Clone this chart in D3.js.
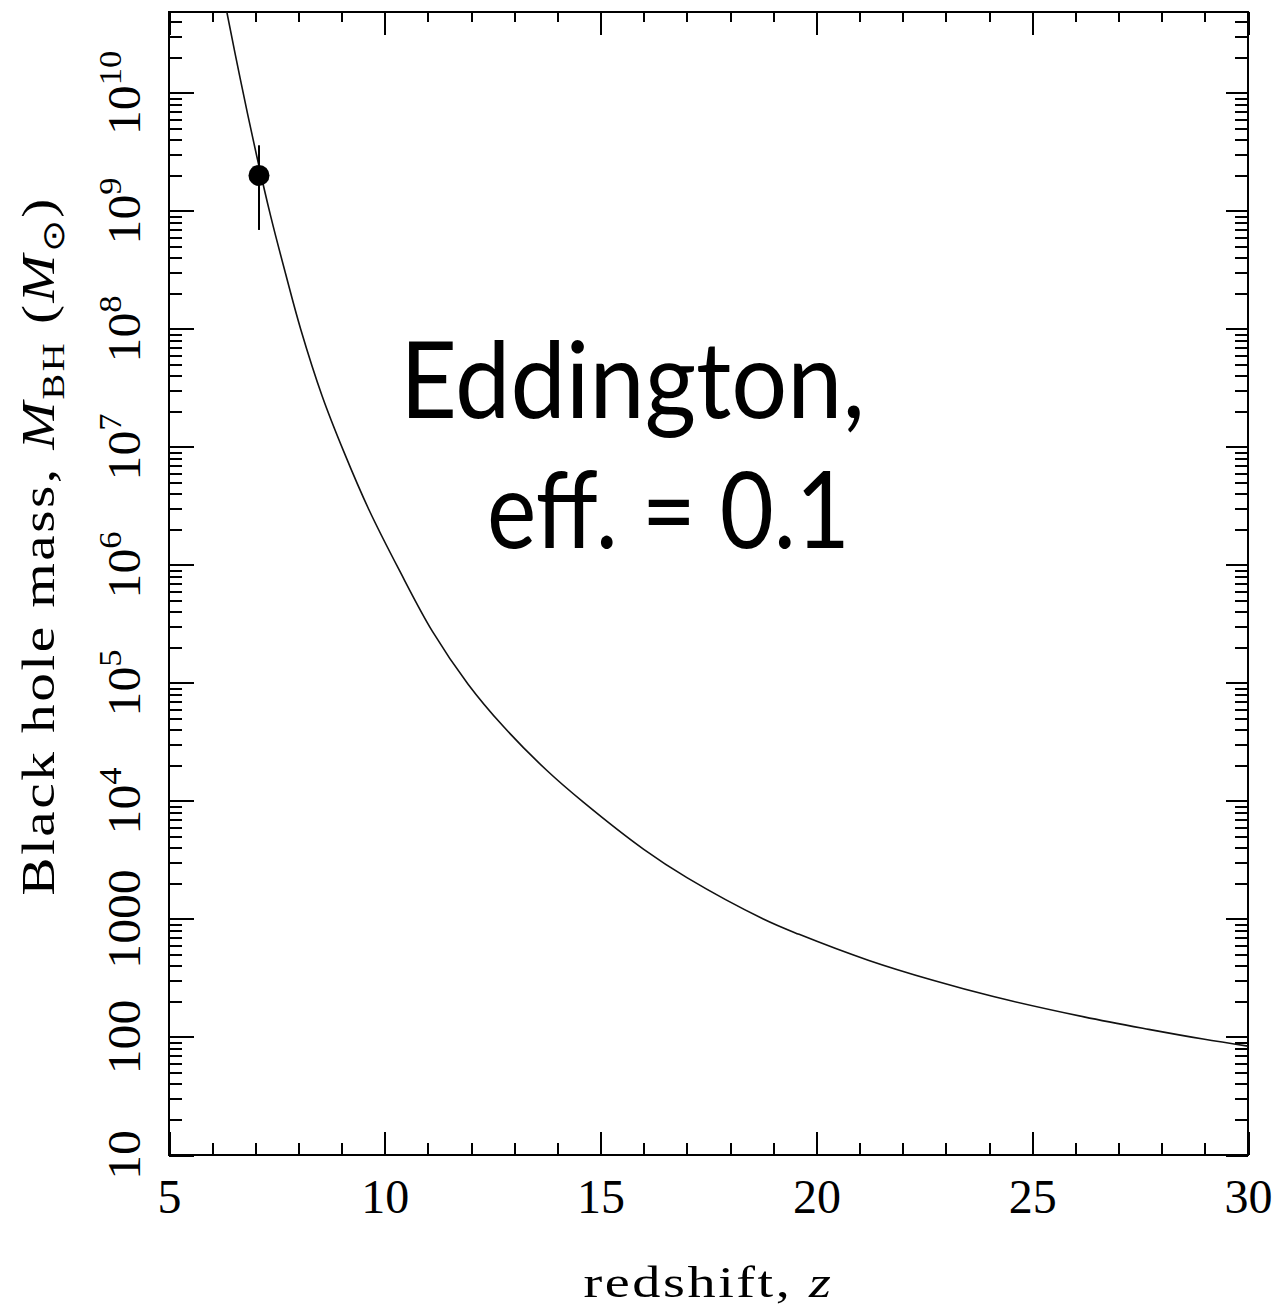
<!DOCTYPE html>
<html>
<head>
<meta charset="utf-8">
<script src="https://cdn.jsdelivr.net/npm/d3@7"></script>
<style>
  body { margin: 0; background: #fff; }
  svg { display: block; }
</style>
</head>
<body>
<svg id="chart" width="1280" height="1309"></svg>
<script>
// Eddington-limited growth track (radiative efficiency 0.1): black hole mass vs redshift
const redshift = [6.34, 6.65, 7.03, 7.36, 7.7, 8.05, 8.55, 9.05, 9.63, 10.33, 11.1, 11.93,
                  12.75, 13.75, 14.6, 16.0, 17.0, 18.77, 19.6, 21.2, 22.7, 24.1, 26.2, 27.7, 28.96, 30];
const bhMass = [4.85e10, 1.32e10, 2.95e9, 8.9e8, 2.95e8, 1.0e8, 2.69e7, 9.12e6, 2.95e6, 9.12e5, 2.75e5, 9.77e4,
                4.27e4, 1.82e4, 9770, 3890, 2240, 1000, 741, 447, 302, 220, 148, 116, 96, 83.6];

// observed quasar with its mass uncertainty
const quasarZ = [7.085];
const quasarMass = [2.0e9];
const quasarMassLow = [6.9e8];
const quasarMassHigh = [3.6e9];

// axis ticks
const xMajorTicks = [5, 10, 15, 20, 25, 30];
const xMinorTicks = [6, 7, 8, 9, 11, 12, 13, 14, 16, 17, 18, 19, 21, 22, 23, 24, 26, 27, 28, 29];
const yMajorExponents = [1, 2, 3, 4, 5, 6, 7, 8, 9, 10];
const yPlainLabels = { 1: "10", 2: "100", 3: "1000" };

const annotationLines = ["Eddington,", "eff. = 0.1"];

const svg = d3.select("#chart");
const plotLeft = 169, plotRight = 1248, plotTop = 12, plotBottom = 1155;

const x = d3.scaleLinear().domain([5, 30]).range([plotLeft, plotRight]);
const y = d3.scaleLog().domain([10, 4.85e10]).range([plotBottom, plotTop]);

const yMajorTicks = yMajorExponents.map(e => Math.pow(10, e));
const yMinorTicks = [];
yMajorExponents.forEach(e => {
  for (let m = 2; m <= 9; m++) {
    const v = m * Math.pow(10, e);
    if (v <= y.domain()[1]) yMinorTicks.push(v);
  }
});

const serif = "'Liberation Serif', 'Times New Roman', serif";

function styleTicks(g) {
  g.select(".domain").remove();
  g.selectAll(".tick line")
    .attr("stroke", "#000")
    .attr("stroke-width", 2)
    .attr("shape-rendering", "crispEdges");
}

// widen a text along its own baseline so it spans `target` pixels
function stretchTo(text, base, target) {
  const len = text.node().getComputedTextLength();
  text.attr("transform", `${base} scale(${target / len},1)`);
}

// bottom axis (inward ticks) with numeric labels
svg.append("g")
  .attr("transform", `translate(0,${plotBottom})`)
  .call(d3.axisBottom(x).tickValues(xMajorTicks).tickSize(-23).tickPadding(24).tickFormat(d3.format("d")))
  .call(styleTicks)
  .call(g => g.selectAll(".tick text")
    .attr("font-family", serif).attr("font-size", 48).attr("fill", "#000"));
svg.append("g")
  .attr("transform", `translate(0,${plotBottom})`)
  .call(d3.axisBottom(x).tickValues(xMinorTicks).tickSize(-12).tickFormat(""))
  .call(styleTicks);

// top axis mirrors the bottom one
svg.append("g")
  .attr("transform", `translate(0,${plotTop})`)
  .call(d3.axisTop(x).tickValues(xMajorTicks).tickSize(-23).tickFormat(""))
  .call(styleTicks);
svg.append("g")
  .attr("transform", `translate(0,${plotTop})`)
  .call(d3.axisTop(x).tickValues(xMinorTicks).tickSize(-10).tickFormat(""))
  .call(styleTicks);

// left and right log axes
svg.append("g")
  .attr("transform", `translate(${plotLeft},0)`)
  .call(d3.axisLeft(y).tickValues(yMajorTicks).tickSize(-25).tickFormat(""))
  .call(styleTicks);
svg.append("g")
  .attr("transform", `translate(${plotLeft},0)`)
  .call(d3.axisLeft(y).tickValues(yMinorTicks).tickSize(-13).tickFormat(""))
  .call(styleTicks);
svg.append("g")
  .attr("transform", `translate(${plotRight},0)`)
  .call(d3.axisRight(y).tickValues(yMajorTicks).tickSize(-22).tickFormat(""))
  .call(styleTicks);
svg.append("g")
  .attr("transform", `translate(${plotRight},0)`)
  .call(d3.axisRight(y).tickValues(yMinorTicks).tickSize(-13).tickFormat(""))
  .call(styleTicks);

// rotated y tick labels, powers of ten with superscript exponents
const yLabels = svg.append("g")
  .attr("font-family", serif)
  .attr("font-size", 46)
  .attr("fill", "#000");
yMajorExponents.forEach(e => {
  const t = yLabels.append("text")
    .attr("transform", `translate(140,${y(Math.pow(10, e))}) rotate(-90) scale(1.08,1)`)
    .attr("text-anchor", "middle");
  if (yPlainLabels[e]) {
    t.text(yPlainLabels[e]);
  } else {
    t.append("tspan").text("10");
    t.append("tspan").attr("font-size", 32).attr("dy", -19).text(String(e));
  }
});

// frame
svg.append("rect")
  .attr("x", plotLeft).attr("y", plotTop)
  .attr("width", plotRight - plotLeft).attr("height", plotBottom - plotTop)
  .attr("fill", "none").attr("stroke", "#000").attr("stroke-width", 2)
  .attr("shape-rendering", "crispEdges");

// growth curve, clipped to the plotting box
svg.append("clipPath").attr("id", "plot-clip")
  .append("rect").attr("x", plotLeft).attr("y", plotTop)
  .attr("width", plotRight - plotLeft).attr("height", plotBottom - plotTop);

const line = d3.line()
  .x((d, i) => x(redshift[i]))
  .y((d, i) => y(bhMass[i]))
  .curve(d3.curveCatmullRom.alpha(0.5));

svg.append("path")
  .datum(bhMass)
  .attr("clip-path", "url(#plot-clip)")
  .attr("d", line)
  .attr("fill", "none")
  .attr("stroke", "#111")
  .attr("stroke-width", 1.6);

// quasar measurement with error bar
const q = svg.append("g");
quasarZ.forEach((z, i) => {
  q.append("line")
    .attr("x1", x(z)).attr("x2", x(z))
    .attr("y1", y(quasarMassLow[i])).attr("y2", y(quasarMassHigh[i]))
    .attr("stroke", "#000").attr("stroke-width", 2);
  q.append("circle")
    .attr("cx", x(z)).attr("cy", y(quasarMass[i]))
    .attr("r", 10.5).attr("fill", "#000");
});

// axis titles
const xTitleBase = `translate(${(plotLeft + plotRight) / 2},1297)`;
const xTitle = svg.append("text")
  .attr("transform", xTitleBase)
  .attr("text-anchor", "middle")
  .attr("font-family", serif).attr("font-size", 44).attr("fill", "#000")
  .attr("letter-spacing", 2)
  .call(t => {
    t.append("tspan").text("redshift, ");
    t.append("tspan").attr("font-style", "italic").text("z");
  });
stretchTo(xTitle, xTitleBase, 250);

const yTitleBase = "translate(54,546) rotate(-90)";
const yTitle = svg.append("text")
  .attr("transform", yTitleBase)
  .attr("text-anchor", "middle")
  .attr("font-family", serif).attr("font-size", 46).attr("fill", "#000")
  .attr("letter-spacing", 2)
  .call(t => {
    t.append("tspan").text("Black hole mass, ");
    t.append("tspan").attr("font-style", "italic").text("M");
    t.append("tspan").attr("font-size", 31).attr("dy", 10).text("BH");
    t.append("tspan").attr("dy", -10).text(" (");
    t.append("tspan").attr("font-style", "italic").text("M");
    t.append("tspan").attr("font-size", 31).attr("dy", 10).text("\u2299");
    t.append("tspan").attr("dy", -10).text(")");
  });
stretchTo(yTitle, yTitleBase, 700);

// annotation, two lines in one text block
const sans = "Lato, 'Open Sans', sans-serif";
const note = svg.append("text")
  .attr("font-family", sans).attr("font-size", 107).attr("fill", "#000");
note.append("tspan")
  .attr("x", 400).attr("y", 418)
  .attr("textLength", 465).attr("lengthAdjust", "spacingAndGlyphs")
  .text(annotationLines[0]);
note.append("tspan")
  .attr("x", 487).attr("y", 548)
  .attr("textLength", 363).attr("lengthAdjust", "spacingAndGlyphs")
  .text(annotationLines[1]);
</script>
</body>
</html>
